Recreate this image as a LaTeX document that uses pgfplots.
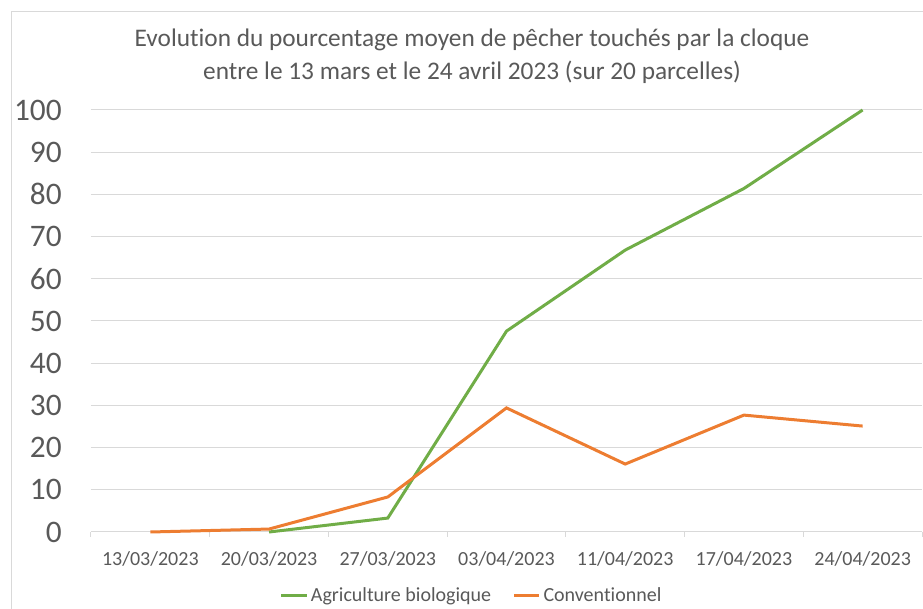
\documentclass[border=0pt]{standalone}
\usepackage{pgfplots}
\pgfplotsset{compat=1.18}
\usepackage{fontspec}
\setmainfont{Carlito}[Ligatures=NoCommon]
\definecolor{bio}{HTML}{70AD47}
\definecolor{conv}{HTML}{ED7D31}
\definecolor{gridc}{HTML}{D9D9D9}
\definecolor{txt}{HTML}{595959}
\begin{document}
\begin{tikzpicture}
\path[use as bounding box] (-68.25pt,-57.75pt) rectangle (624pt,399pt);
\draw[gridc, line width=0.75pt] (-59.25pt,390pt) rectangle (700pt,-100pt);
\begin{axis}[
  scale only axis,
  width=623.25pt, height=316.5pt,
  xmin=-0.5, xmax=6.5, ymin=0, ymax=100,
  axis x line*=bottom, axis y line*=left,
  x axis line style={draw=gridc, line width=0.75pt},
  y axis line style={draw=none},
  xtick={-0.5,0.5,...,6.5},
  x tick label as interval,
  xticklabels={13/03/2023,20/03/2023,27/03/2023,03/04/2023,11/04/2023,17/04/2023,24/04/2023},
  tick align=outside,
  major tick length=3.75pt,
  x tick style={draw=gridc, line width=0.75pt},
  y tick style={draw=none},
  ytick={0,10,...,100},
  ymajorgrids,
  grid style={draw=gridc, line width=0.75pt},
  /pgf/number format/assume math mode=true,
  yticklabel style={font=\fontsize{23.5}{26}\selectfont, text=txt, inner sep=0pt},
  yticklabel shift=18pt,
  xticklabel style={font=\fontsize{15}{18}\selectfont, text=txt, inner sep=0pt},
  xticklabel shift=11pt,
  legend style={at={(0.4585,-0.151)}, anchor=center, draw=none, fill=none,
    legend columns=2, font=\fontsize{15}{18}\selectfont, text=txt,
    /tikz/every even column/.append style={column sep=14pt},
    nodes={inner sep=2pt}},
  legend image code/.code={\draw[#1] (0pt,0pt) -- (19pt,0pt);},
  clip=false,
]
\addplot[bio, line width=2.25pt] coordinates {(1,0) (2,3.3) (3,47.6) (4,66.8) (5,81.4) (6,100)};
\addlegendentry{Agriculture biologique}
\addplot[conv, line width=2.25pt] coordinates {(0,0) (1,0.7) (2,8.3) (3,29.4) (4,16.1) (5,27.7) (6,25.1)};
\addlegendentry{Conventionnel}
\end{axis}
\node[text=txt, font=\fontsize{19}{22}\selectfont] at (285.75pt,369pt) {Evolution du pourcentage moyen de pêcher touchés par la cloque};
\node[text=txt, font=\fontsize{19}{22}\selectfont] at (285.75pt,345pt) {entre le 13 mars et le 24 avril 2023 (sur 20 parcelles)};
\end{tikzpicture}
\end{document}
